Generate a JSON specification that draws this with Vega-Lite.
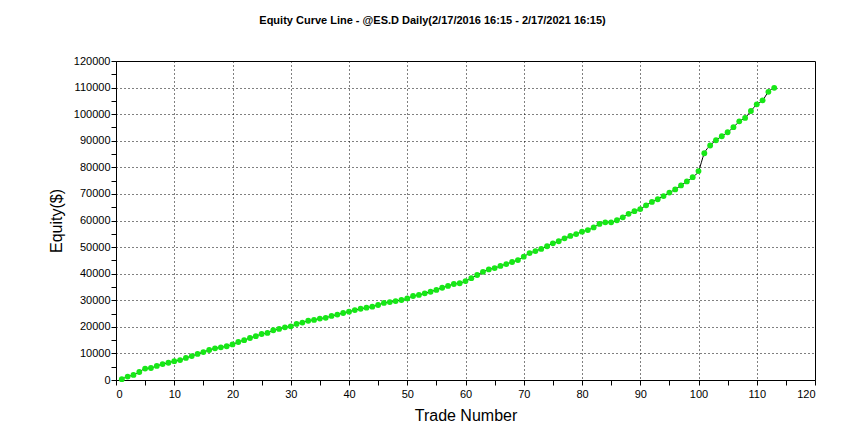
{
  "$schema": "https://vega.github.io/schema/vega-lite/v6.json",
  "autosize": {"type": "none"},
  "padding": {"left": 116, "top": 61, "right": 37, "bottom": 62},
  "width": 699,
  "height": 319,
  "background": "white",
  "title": {
    "text": "Equity Curve Line - @ES.D Daily(2/17/2016 16:15 - 2/17/2021 16:15)",
    "font": "Liberation Sans",
    "fontSize": 11,
    "fontWeight": "bold",
    "color": "black",
    "anchor": "middle",
    "dx": -33,
    "offset": 29
  },
  "config": {
    "view": {"stroke": "black", "strokeWidth": 1},
    "axis": {
      "labelFont": "Liberation Sans",
      "labelFontSize": 11,
      "labelColor": "black",
      "titleFont": "Liberation Sans",
      "titleFontSize": 16,
      "titleFontWeight": "normal",
      "titleColor": "black",
      "domainColor": "black",
      "tickColor": "black",
      "tickSize": 5,
      "gridColor": "black",
      "gridDash": [1, 3],
      "gridWidth": 1
    }
  },
  "data": {
    "values": [
      {"trade": 1, "equity": 300}, {"trade": 2, "equity": 1300}, {"trade": 3, "equity": 1900},
      {"trade": 4, "equity": 3000}, {"trade": 5, "equity": 4300}, {"trade": 6, "equity": 4500},
      {"trade": 7, "equity": 5300}, {"trade": 8, "equity": 6000}, {"trade": 9, "equity": 6500},
      {"trade": 10, "equity": 7100}, {"trade": 11, "equity": 7500}, {"trade": 12, "equity": 8300},
      {"trade": 13, "equity": 9000}, {"trade": 14, "equity": 9800}, {"trade": 15, "equity": 10500},
      {"trade": 16, "equity": 11300}, {"trade": 17, "equity": 11900}, {"trade": 18, "equity": 12300},
      {"trade": 19, "equity": 12700}, {"trade": 20, "equity": 13400}, {"trade": 21, "equity": 14300},
      {"trade": 22, "equity": 15000}, {"trade": 23, "equity": 15800}, {"trade": 24, "equity": 16500},
      {"trade": 25, "equity": 17300}, {"trade": 26, "equity": 17700}, {"trade": 27, "equity": 18700},
      {"trade": 28, "equity": 19200}, {"trade": 29, "equity": 19800}, {"trade": 30, "equity": 20200},
      {"trade": 31, "equity": 21100}, {"trade": 32, "equity": 21600}, {"trade": 33, "equity": 22300},
      {"trade": 34, "equity": 22600}, {"trade": 35, "equity": 23100}, {"trade": 36, "equity": 23400},
      {"trade": 37, "equity": 24100}, {"trade": 38, "equity": 24600}, {"trade": 39, "equity": 25200},
      {"trade": 40, "equity": 25700}, {"trade": 41, "equity": 26300}, {"trade": 42, "equity": 26800},
      {"trade": 43, "equity": 27200}, {"trade": 44, "equity": 27600}, {"trade": 45, "equity": 28200},
      {"trade": 46, "equity": 29000}, {"trade": 47, "equity": 29300}, {"trade": 48, "equity": 29700},
      {"trade": 49, "equity": 30100}, {"trade": 50, "equity": 30700}, {"trade": 51, "equity": 31600},
      {"trade": 52, "equity": 32000}, {"trade": 53, "equity": 32600}, {"trade": 54, "equity": 33200},
      {"trade": 55, "equity": 33900}, {"trade": 56, "equity": 34700}, {"trade": 57, "equity": 35400},
      {"trade": 58, "equity": 36100}, {"trade": 59, "equity": 36400}, {"trade": 60, "equity": 37200},
      {"trade": 61, "equity": 38300}, {"trade": 62, "equity": 39500}, {"trade": 63, "equity": 40700},
      {"trade": 64, "equity": 41600}, {"trade": 65, "equity": 42100}, {"trade": 66, "equity": 42900},
      {"trade": 67, "equity": 43600}, {"trade": 68, "equity": 44400}, {"trade": 69, "equity": 45100},
      {"trade": 70, "equity": 46400}, {"trade": 71, "equity": 47700}, {"trade": 72, "equity": 48500},
      {"trade": 73, "equity": 49300}, {"trade": 74, "equity": 50300}, {"trade": 75, "equity": 51400},
      {"trade": 76, "equity": 52200}, {"trade": 77, "equity": 53300}, {"trade": 78, "equity": 54200},
      {"trade": 79, "equity": 54900}, {"trade": 80, "equity": 55800}, {"trade": 81, "equity": 56400},
      {"trade": 82, "equity": 57400}, {"trade": 83, "equity": 58700}, {"trade": 84, "equity": 59300},
      {"trade": 85, "equity": 59300}, {"trade": 86, "equity": 60100}, {"trade": 87, "equity": 61200},
      {"trade": 88, "equity": 62500}, {"trade": 89, "equity": 63500}, {"trade": 90, "equity": 64300},
      {"trade": 91, "equity": 65700}, {"trade": 92, "equity": 67000}, {"trade": 93, "equity": 68000},
      {"trade": 94, "equity": 69200}, {"trade": 95, "equity": 70500}, {"trade": 96, "equity": 71700},
      {"trade": 97, "equity": 73200}, {"trade": 98, "equity": 74700}, {"trade": 99, "equity": 76300},
      {"trade": 100, "equity": 78600}, {"trade": 101, "equity": 85300}, {"trade": 102, "equity": 88200},
      {"trade": 103, "equity": 90200}, {"trade": 104, "equity": 91700}, {"trade": 105, "equity": 93200},
      {"trade": 106, "equity": 95100}, {"trade": 107, "equity": 97300}, {"trade": 108, "equity": 98600},
      {"trade": 109, "equity": 101200}, {"trade": 110, "equity": 103700}, {"trade": 111, "equity": 105200},
      {"trade": 112, "equity": 108400}, {"trade": 113, "equity": 109900}
    ]
  },
  "encoding": {
    "x": {
      "field": "trade",
      "type": "quantitative",
      "title": "Trade Number",
      "scale": {"domain": [0, 120], "nice": false, "zero": true},
      "axis": {
        "values": [0, 5, 10, 15, 20, 25, 30, 35, 40, 45, 50, 55, 60, 65, 70, 75, 80, 85, 90, 95, 100, 105, 110, 115, 120],
        "labelExpr": "datum.value % 10 === 0 ? datum.label : ''",
        "gridOpacity": {"condition": {"test": "datum.value % 10 !== 0 || datum.value === 0 || datum.value === 120", "value": 0}, "value": 1},
        "labelPadding": 3,
        "titlePadding": 8
      }
    },
    "y": {
      "field": "equity",
      "type": "quantitative",
      "title": "Equity($)",
      "scale": {"domain": [0, 120000], "nice": false},
      "axis": {
        "values": [0, 5000, 10000, 15000, 20000, 25000, 30000, 35000, 40000, 45000, 50000, 55000, 60000, 65000, 70000, 75000, 80000, 85000, 90000, 95000, 100000, 105000, 110000, 115000, 120000],
        "format": "d",
        "labelExpr": "datum.value % 10000 === 0 ? datum.label : ''",
        "gridOpacity": {"condition": {"test": "datum.value % 10000 !== 0 || datum.value === 0 || datum.value === 120000", "value": 0}, "value": 1},
        "labelPadding": 1,
        "titlePadding": 9
      }
    }
  },
  "layer": [
    {
      "mark": {"type": "line", "color": "black", "strokeWidth": 1, "interpolate": "monotone"}
    },
    {
      "mark": {"type": "circle", "color": "#16e816", "opacity": 1, "size": 34}
    }
  ]
}
